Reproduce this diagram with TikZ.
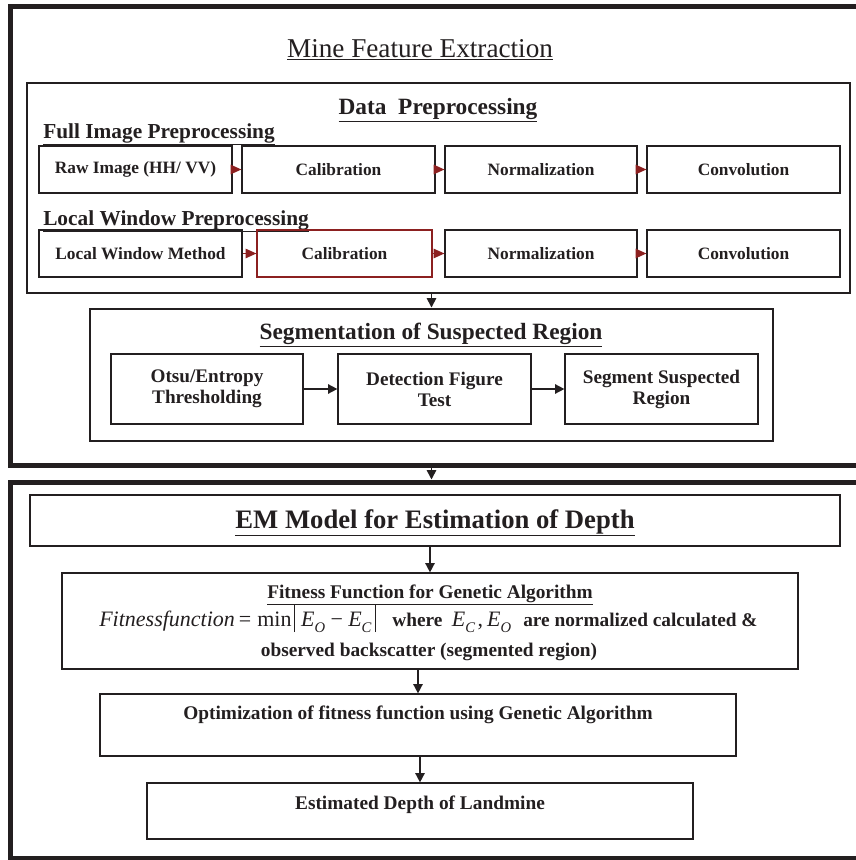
\documentclass[tikz,border=0pt]{standalone}
\usepackage{fontspec}
\setmainfont{Liberation Serif}
\usetikzlibrary{arrows.meta,fit}
\definecolor{arrowred}{RGB}{140,32,32}
\definecolor{linegray}{RGB}{35,31,32}
\newcommand{\lowidx}[1]{\raisebox{-0.6ex}{\fontsize{11}{11}\selectfont\itshape #1}}
\newcommand{\fitmath}{\fontsize{16.5}{18}\selectfont}
\newcommand{\absbar}{\rule[-4.5pt]{0.7pt}{20pt}}
\begin{document}
\begin{tikzpicture}[x=0.75pt,y=-0.75pt,
    outerframe/.style={draw=linegray,line width=3.75pt,inner sep=0pt},
    groupframe/.style={draw=linegray,line width=2.2pt,inner sep=0pt},
    boxwh/.style 2 args={minimum width=#1*0.75pt,minimum height=#2*0.75pt},
    stepbox/.style={draw=linegray,line width=0.9pt,inner sep=0pt,text=linegray,
        font=\bfseries\fontsize{13}{15}\selectfont},
    redbox/.style={stepbox,draw=arrowred},
    segstep/.style={stepbox,align=center,font=\bfseries\fontsize{14.4}{15.8}\selectfont},
    heading/.style={anchor=base west,inner sep=0pt,text=linegray,
        font=\bfseries\fontsize{16}{18}\selectfont},
    gatext/.style={anchor=base,inner sep=0pt,text=linegray,
        font=\bfseries\fontsize{14.5}{16}\selectfont},
    redarr/.style={-{Triangle[length=8pt,width=7pt]},draw=arrowred,line width=1pt},
    arr/.style={-{Triangle[length=7pt,width=7pt]},draw=linegray,line width=1.2pt}]
    \useasboundingbox (0,0) rectangle (856,860);

    % upper half
    \node[outerframe,fit={(10,6) (862,465)}] (mfe) {};
    \node[anchor=base,inner sep=0pt,text=linegray,font=\fontsize{20.4}{24}\selectfont] (mfetitle) at (420,57) {\underline{Mine Feature Extraction}};

    \node[groupframe,fit={(27,83) (850,293)}] (dp) {};
    \node[anchor=base,inner sep=0pt,text=linegray,font=\bfseries\fontsize{17.5}{20}\selectfont] (dptitle) at (438,114) {\underline{Data\ \ Preprocessing}};
    \node[heading] (fullhead) at (43,138) {\underline{Full Image Preprocessing}};
    \node[heading] (localhead) at (43,225) {\underline{Local Window Preprocessing}};

    \node[stepbox,boxwh={193}{47}] (raw) at (135.5,169.5) {Raw Image (HH/ VV)};
    \node[stepbox,boxwh={193}{47}] (calA) at (338.5,169.5) {Calibration};
    \node[stepbox,boxwh={192}{47}] (normA) at (541,169.5) {Normalization};
    \node[stepbox,boxwh={193}{47}] (convA) at (743.5,169.5) {Convolution};

    \node[stepbox,boxwh={203}{47}] (lwm) at (140.5,253.5) {Local Window Method};
    \node[redbox,boxwh={175}{47}] (calB) at (344.5,253.5) {Calibration};
    \node[stepbox,boxwh={192}{47}] (normB) at (541,253.5) {Normalization};
    \node[stepbox,boxwh={193}{47}] (convB) at (743.5,253.5) {Convolution};

    \draw[redarr] (raw) -- (calA);
    \draw[redarr] (calA) -- (normA);
    \draw[redarr] (normA) -- (convA);
    \draw[redarr] (lwm) -- (calB);
    \draw[redarr] (calB) -- (normB);
    \draw[redarr] (normB) -- (convB);

    \node[groupframe,fit={(90,309) (773,441)}] (seg) {};
    \node[anchor=base,inner sep=0pt,text=linegray,font=\bfseries\fontsize{17.5}{20}\selectfont] (segtitle) at (431,339) {\underline{Segmentation of Suspected Region}};
    \node[segstep,boxwh={192}{70}] (otsu) at (207,389) {Otsu/Entropy\\Thresholding};
    \node[segstep,boxwh={193}{70}] (dtest) at (434.5,389) {Detection Figure\\Test};
    \node[segstep,boxwh={193}{70}] (sreg) at (661.5,389) {Segment Suspected\\Region};
    \draw[arr] (otsu) -- (dtest);
    \draw[arr] (dtest) -- (sreg);
    \draw[arr] (seg.north |- dp.south) -- (seg.north);

    % lower half
    \node[outerframe,fit={(10,482) (862,858)}] (emo) {};
    \draw[arr] (seg.north |- mfe.south) -- (seg.north |- emo.north);

    \node[stepbox,fit={(30,495) (840,546)}] (emb) {};
    \node[anchor=base,inner sep=0pt,text=linegray,font=\bfseries\fontsize{20}{24}\selectfont] (emtitle) at (435,528) {\underline{EM Model for Estimation of Depth}};

    \node[stepbox,fit={(62,573) (798,669)}] (fit) {};
    \node[gatext] (fitA) at (430,598) {\underline{Fitness Function for Genetic Algorithm}};
    \node[gatext,anchor=base west] (fitB) at (99,626) {{\fitmath\mdseries\itshape Fitnessfunction}\hspace{3pt}{\fitmath\mdseries =\hspace{4.5pt}min\hspace{1.5pt}\absbar\hspace{5pt}\textit{E}\lowidx{O}\hspace{4pt}−\hspace{4pt}\textit{E}\lowidx{C}\hspace{3pt}\absbar}\hspace{12pt}where\hspace{7pt}{\fitmath\mdseries\textit{E}\lowidx{C}\hspace{2pt},\hspace{3pt}\textit{E}\lowidx{O}}\hspace{9pt}are normalized calculated \&};
    \node[gatext] (fitC) at (429,656) {observed backscatter (segmented region)};

    \node[stepbox,fit={(100,694) (736,756)}] (opt) {};
    \node[gatext] (opttext) at (418,719) {Optimization of fitness function using Genetic Algorithm};

    \node[stepbox,fit={(147,783) (693,839)}] (est) {};
    \node[gatext] (esttext) at (420,809) {Estimated Depth of Landmine};

    \draw[arr] (fit.north |- emb.south) -- (fit.north);
    \draw[arr] (opt.north |- fit.south) -- (opt.north);
    \draw[arr] (est.north |- opt.south) -- (est.north);
\end{tikzpicture}
\end{document}
